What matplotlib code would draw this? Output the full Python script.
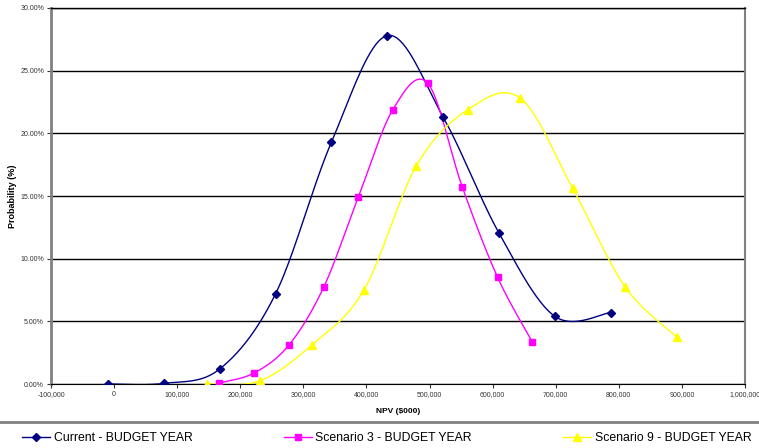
import numpy as np
import matplotlib
matplotlib.use("Agg")
import matplotlib.pyplot as plt
from matplotlib.lines import Line2D
from matplotlib.ticker import FuncFormatter, MultipleLocator

# NPV ($) and probability (%)
current_x = [-9500, 79000, 167500, 256000, 344500, 433000, 521500, 610000, 698500, 787000]
current_y = [0.0, 0.05, 1.2, 7.2, 19.3, 27.8, 21.3, 12.05, 5.4, 5.7]

scen3_x = [167000, 222000, 277000, 332000, 387000, 442000, 497000, 552000, 608000, 663000]
scen3_y = [0.08, 0.88, 3.1, 7.7, 14.9, 21.9, 24.0, 15.7, 8.5, 3.35]

scen9_x = [148000, 231000, 313000, 396000, 479000, 561000, 644000, 727000, 810000, 892000]
scen9_y = [0.0, 0.25, 3.1, 7.5, 17.4, 21.9, 22.8, 15.6, 7.75, 3.75]

labels = ["Current - BUDGET YEAR", "Scenario 3 - BUDGET YEAR", "Scenario 9 - BUDGET YEAR"]
colors = ["#000080", "#FF00FF", "#FFFF00"]
markers = ["D", "s", "^"]
msizes = [4.5, 5, 6]


def smooth(x, y, n=40):
    # excel style smoothed line: bezier segments through the points
    pts = np.column_stack([x, y]).astype(float)
    padded = np.vstack([pts[0], pts, pts[-1]])
    t = np.linspace(0, 1, n)[:, None]
    segs = []
    for i in range(len(pts) - 1):
        p0, p1, p2, p3 = padded[i], padded[i + 1], padded[i + 2], padded[i + 3]
        c1 = p1 + (p2 - p0) / 6
        c2 = p2 - (p3 - p1) / 6
        segs.append((1 - t) ** 3 * p1 + 3 * (1 - t) ** 2 * t * c1
                    + 3 * (1 - t) * t ** 2 * c2 + t ** 3 * p2)
    curve = np.vstack(segs)
    return curve[:, 0], curve[:, 1]


plt.rcParams["font.family"] = ["Liberation Sans", "DejaVu Sans"]

fig = plt.figure(figsize=(7.59, 4.48), dpi=100)
ax = fig.add_axes([51 / 759, 64 / 448, 694 / 759, 376 / 448])

series = [(current_x, current_y), (scen3_x, scen3_y), (scen9_x, scen9_y)]
handles = []
for (xs, ys), c, m, ms, lab in zip(series, colors, markers, msizes, labels):
    sx, sy = smooth(xs, ys)
    ax.plot(sx, sy, color=c, lw=1.0, zorder=3)
    ax.plot(xs, ys, ls="none", marker=m, ms=ms, color=c, zorder=4)
    handles.append(Line2D([], [], color=c, lw=1.0, marker=m, ms=ms, label=lab))

ax.set_xlim(-100000, 1000000)
ax.set_ylim(0, 30)
ax.xaxis.set_major_locator(MultipleLocator(100000))
ax.yaxis.set_major_locator(MultipleLocator(5))
ax.xaxis.set_major_formatter(FuncFormatter(lambda v, p: f"{v:,.0f}"))
ax.yaxis.set_major_formatter(FuncFormatter(lambda v, p: f"{v:.2f}%"))
ax.grid(axis="y", color="black", lw=1.0)
ax.set_axisbelow(True)

ax.tick_params(labelsize=5, colors="#333333", length=3, width=0.8, pad=2)
ax.spines["left"].set_color("#808080")
ax.spines["left"].set_linewidth(2)
ax.spines["right"].set_color("#808080")
ax.spines["right"].set_linewidth(1.5)
ax.spines["bottom"].set_color("black")
ax.spines["top"].set_color("black")
ax.spines["top"].set_linewidth(1.0)

ax.set_xlabel("NPV ($000)", fontsize=6, fontweight="bold")
ax.set_ylabel("Probability (%)", fontsize=6.5, fontweight="bold")
ax.xaxis.set_label_coords(0.5, -0.064)
ax.yaxis.set_label_coords(-0.049, 0.5)

fig.add_artist(Line2D([0, 1], [(448 - 422) / 448] * 2, color="#808080", lw=2,
                      transform=fig.transFigure))

fig.legend(handles=handles, loc="center left", bbox_to_anchor=(22 / 759, 10 / 448),
           ncol=3, frameon=False, fontsize=8.8, handlelength=2.3, handletextpad=0.3,
           columnspacing=7.45, borderpad=0, borderaxespad=0)

fig.savefig("out.png", dpi=100)
